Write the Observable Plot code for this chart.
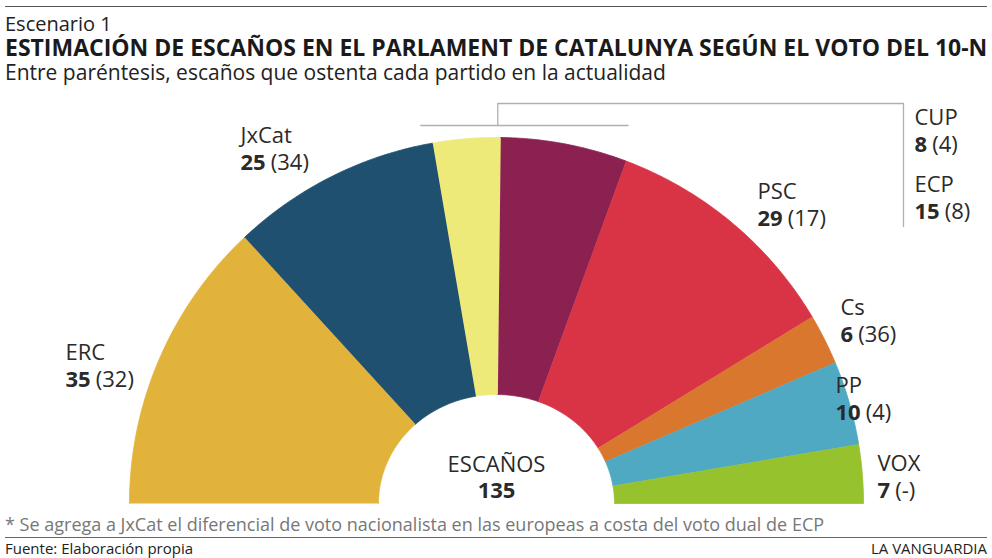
<!DOCTYPE html>
<html><head><meta charset="utf-8">
<script src="https://cdn.jsdelivr.net/npm/d3@7"></script>
<script src="https://cdn.jsdelivr.net/npm/@observablehq/plot@0.6"></script>
<style>
body{margin:0;background:#fff;font-family:'Open Sans',sans-serif;}
#wrap{position:relative;width:992px;height:558px;overflow:hidden;background:#fff;}
.t{position:absolute;left:5px;white-space:nowrap;line-height:1;color:#222;}
.rule{position:absolute;left:5px;width:982px;height:0;}
#chart{position:absolute;left:0;top:90px;}
#chart svg{overflow:visible;}
</style></head><body>
<div id="wrap">
  <div class="rule" style="top:6px;border-top:1.5px solid #555"></div>
  <div class="t" style="top:14px;font-size:20px">Escenario 1</div>
  <div class="t" style="top:35.5px;font-size:23px;font-weight:700;color:#1a1a1a">ESTIMACIÓN DE ESCAÑOS EN EL PARLAMENT DE CATALUNYA SEGÚN EL VOTO DEL 10-N</div>
  <div class="t" style="top:61.5px;font-size:21px">Entre paréntesis, escaños que ostenta cada partido en la actualidad</div>
  <div id="chart"></div>
  <div class="t" style="top:515px;font-size:18px;color:#777">* Se agrega a JxCat el diferencial de voto nacionalista en las europeas a costa del voto dual de ECP</div>
  <div class="rule" style="top:537px;border-top:1.5px solid #666"></div>
  <div class="t" style="top:541px;font-size:15px">Fuente: Elaboración propia</div>
  <div class="t" style="top:541px;font-size:15px;left:auto;right:5px">LA VANGUARDIA</div>
</div>
<script>
// ---- data ----
const parties = ["ERC", "JxCat", "CUP", "ECP", "PSC", "Cs", "PP", "VOX"];
const seats = [35, 25, 8, 15, 29, 6, 10, 7];
const currentSeats = ["32", "34", "4", "8", "17", "36", "4", "-"];
const colors = ["#E2B33B", "#1F5070", "#EEEA7A", "#8B2150", "#D93446", "#DA772F", "#50A9C2", "#96C22E"];
const centerLabel = "ESCAÑOS";

// ---- layout (annotation anchors, relative to hemicycle centre, px units) ----
const labelAnchors = [[-431, 144], [-256, 361], [418, 379], [418, 312], [261, 305], [344, 189], [339, 111], [381, 33]];
const outerR = [367, 366], innerR = [118, 109];
const fontSize = 22, lineGap = 27;

const total = d3.sum(seats);
// cumulative angles (degrees, 180 -> 0)
let acc = 0;
const segs = parties.map((p, i) => {
  const a0 = 180 - acc / total * 180;
  acc += seats[i];
  const a1 = 180 - acc / total * 180;
  return {party: p, a0, a1, seats: seats[i], current: currentSeats[i]};
});
const rad = a => a * Math.PI / 180;
const arcPts = [];
for (const s of segs) {
  const n = Math.max(4, Math.ceil((s.a0 - s.a1) * 2));
  for (let k = 0; k <= n; k++) {
    const a = rad(s.a0 + (s.a1 - s.a0) * k / n);
    arcPts.push({party: s.party, x: outerR[0] * Math.cos(a), y: outerR[1] * Math.sin(a)});
  }
  for (let k = n; k >= 0; k--) {
    const a = rad(s.a0 + (s.a1 - s.a0) * k / n);
    arcPts.push({party: s.party, x: innerR[0] * Math.cos(a), y: innerR[1] * Math.sin(a)});
  }
}

// leader lines for CUP / ECP derived from their arc extents
const cup = segs[2], ecp = segs[3];
const xL = outerR[0] * Math.cos(rad(cup.a0)) - 12;
const xR = outerR[0] * Math.cos(rad(ecp.a1)) + 2;
const xB = outerR[0] * Math.cos(rad(cup.a1)) - 3;
const yLow = outerR[1] + 12, yHigh = outerR[1] + 34;
const xLab = labelAnchors[2][0] - 11;
const leader = [
  {g: "a", x: xL, y: yLow}, {g: "a", x: xR, y: yLow},
  {g: "b", x: xB, y: yLow}, {g: "b", x: xB, y: yHigh}, {g: "b", x: xLab, y: yHigh},
  {g: "b", x: xLab, y: labelAnchors[3][1] - lineGap - 8}
];

// label texts
const ctx = document.createElement("canvas").getContext("2d");
const fam = "'Open Sans', sans-serif";
const labels = segs.map((s, i) => {
  const [x, y] = labelAnchors[i];
  const num = String(s.seats);
  ctx.font = `700 ${fontSize}px ${fam}`;
  const wNum = ctx.measureText(num).width;
  ctx.font = `400 ${fontSize}px ${fam}`;
  const wSp = ctx.measureText(" ").width;
  return {name: s.party, num, paren: `(${s.current})`, x, y, y2: y - lineGap, xp: x + wNum + wSp * 0.9};
});
const center = [{t: centerLabel, v: String(total), x: 0, y: 32, y2: 6}];

const txt = {fontFamily: fam, fontSize, fill: "#2a2a2a", lineAnchor: "bottom"};
const chart = Plot.plot({
  width: 992, height: 420, margin: 0,
  x: {domain: [-496, 496], axis: null},
  y: {domain: [-7, 413], axis: null},
  color: {domain: parties, range: colors},
  style: {fontFamily: fam, background: "transparent"},
  marks: [
    Plot.line(arcPts, {x: "x", y: "y", z: "party", fill: "party", stroke: "party", strokeWidth: 0.8, curve: "linear"}),
    Plot.line(leader, {x: "x", y: "y", z: "g", stroke: "#b0b0b0", strokeWidth: 1.3}),
    Plot.text(labels, {x: "x", y: "y", text: "name", textAnchor: "start", ...txt}),
    Plot.text(labels, {x: "x", y: "y2", text: "num", textAnchor: "start", fontWeight: 700, ...txt}),
    Plot.text(labels, {x: "xp", y: "y2", text: "paren", textAnchor: "start", ...txt}),
    Plot.text(center, {x: "x", y: "y", text: "t", textAnchor: "middle", ...txt}),
    Plot.text(center, {x: "x", y: "y2", text: "v", textAnchor: "middle", fontWeight: 700, ...txt})
  ]
});
document.getElementById("chart").appendChild(chart);
</script>
</body></html>
